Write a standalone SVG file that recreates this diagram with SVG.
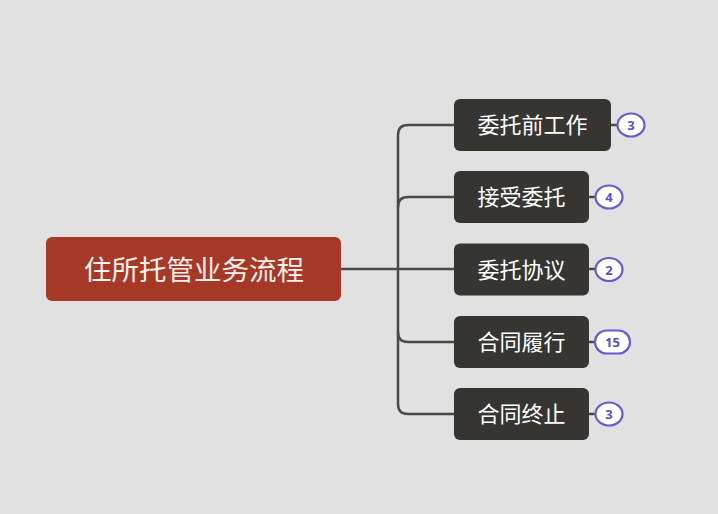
<svg xmlns="http://www.w3.org/2000/svg" width="718" height="514" viewBox="0 0 718 514">
<style>
.conn{fill:none;stroke:#4a4a48;stroke-width:2.5;stroke-linecap:round}
.child rect{fill:#363532}
.child text{fill:#ffffff;font-family:"Noto Sans CJK SC","Noto Sans",sans-serif;font-size:22px;text-anchor:middle;dominant-baseline:central}
.badge ellipse,.badge rect{fill:#ffffff;stroke:#6a5acd;stroke-width:2.2}
.badge text{fill:#5b4fc0;font-family:"Noto Sans","DejaVu Sans",sans-serif;font-size:13px;font-weight:bold;text-anchor:middle;dominant-baseline:central}
</style>
<rect width="718" height="514" fill="#e1e1e1"/>
<g id="connectors">
<path class="conn" d="M341 269 H398" stroke-width="3"/>
<path class="conn" d="M454 125 H408 Q398 125 398 135 V404 Q398 414 408 414 H454"/>
<path class="conn" d="M454 197 H408 Q398 197 398 207"/>
<path class="conn" d="M398 269 H454"/>
<path class="conn" d="M398 332 Q398 342 408 342 H454"/>
<path class="conn" d="M611 125 H617"/>
<path class="conn" d="M589 197 H596"/>
<path class="conn" d="M589 269 H596"/>
<path class="conn" d="M589 342 H594"/>
<path class="conn" d="M589 414 H596"/>
</g>
<g id="root">
<rect x="46" y="237" width="295" height="64" rx="6" fill="#a63827"/>
<text x="194" y="267.5" fill="#fdf0ec" font-family="Noto Sans CJK SC,Noto Sans,sans-serif" font-size="27.5" text-anchor="middle" dominant-baseline="central">住所托管业务流程</text>
</g>
<g id="n1" class="child"><rect x="454" y="99" width="157" height="52" rx="6"/><text x="532.5" y="123">委托前工作</text></g>
<g id="n2" class="child"><rect x="454" y="171" width="135" height="52" rx="6"/><text x="521.5" y="195">接受委托</text></g>
<g id="n3" class="child"><rect x="454" y="243.5" width="135" height="52" rx="6"/><text x="521.5" y="267.5">委托协议</text></g>
<g id="n4" class="child"><rect x="454" y="316" width="135" height="52" rx="6"/><text x="521.5" y="340">合同履行</text></g>
<g id="n5" class="child"><rect x="454" y="388" width="135" height="52" rx="6"/><text x="521.5" y="412">合同终止</text></g>
<g id="b1" class="badge"><ellipse cx="631" cy="125" rx="13.5" ry="11.5"/><text x="631" y="125">3</text></g>
<g id="b2" class="badge"><ellipse cx="609" cy="197" rx="13.5" ry="11.5"/><text x="609" y="197">4</text></g>
<g id="b3" class="badge"><ellipse cx="609" cy="269.5" rx="13.5" ry="11.5"/><text x="609" y="269.5">2</text></g>
<g id="b4" class="badge"><rect x="595" y="330.5" width="35" height="23" rx="11.5"/><text x="612.5" y="342">15</text></g>
<g id="b5" class="badge"><ellipse cx="609" cy="414" rx="13.5" ry="11.5"/><text x="609" y="414">3</text></g>
</svg>
